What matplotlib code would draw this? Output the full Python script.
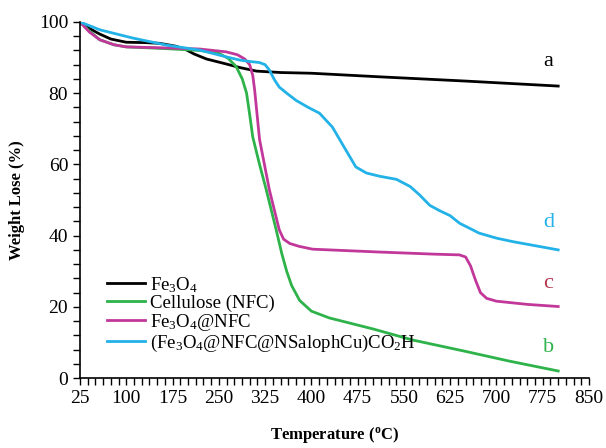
import matplotlib.pyplot as plt
from matplotlib.ticker import MultipleLocator

plt.rcParams['font.family'] = 'Liberation Serif'
plt.rcParams['mathtext.fontset'] = 'custom'
plt.rcParams['mathtext.rm'] = 'Liberation Serif'
plt.rcParams['mathtext.it'] = 'Liberation Serif:italic'
plt.rcParams['mathtext.bf'] = 'Liberation Serif:bold'

# Fe3O4 (a)
t_a = [25, 40, 57, 75, 100, 130, 154, 180, 197, 210, 230, 262, 284, 311, 350, 400,
       510, 650, 800]
w_a = [100, 98.2, 96.6, 95.2, 94.3, 94.2, 94, 93.2, 92.2, 91, 89.6, 88.2, 87.2, 86.2,
       85.8, 85.6, 84.6, 83.4, 82]

# Cellulose (NFC) (b)
t_b = [25, 40, 57, 80, 100, 165, 219, 250, 265, 278, 288, 295, 300, 305, 316, 327,
       343, 352, 360, 368, 381, 400, 429, 500, 564, 650, 720, 800]
w_b = [100, 97.5, 95, 93.6, 93, 92.5, 92, 91.2, 89.8, 87.5, 84, 80, 74, 67.7, 60,
       52.8, 41.6, 35, 30, 26, 21.8, 18.8, 16.9, 13.8, 10.7, 7.5, 4.8, 2]

# Fe3O4@NFC (c)
t_c = [25, 40, 57, 80, 100, 165, 219, 262, 280, 292, 300, 305, 308, 316, 332, 348,
       355, 365, 380, 402, 510, 600, 640, 650, 658, 666, 674, 684, 700, 750, 800]
w_c = [100, 97.2, 95, 93.6, 93, 92.7, 92.4, 91.6, 90.8, 89.6, 88, 85, 81, 67, 52.8,
       41.6, 39, 37.8, 37, 36.2, 35.4, 34.8, 34.6, 34, 31.5, 27.5, 24, 22.4, 21.6,
       20.7, 20.1]

# (Fe3O4@NFC@NSalophCu)CO2H (d)
t_d = [25, 57, 110, 165, 219, 262, 284, 300, 316, 325, 332, 340, 348, 360, 375, 395,
       413, 434, 456, 472, 489, 510, 538, 560, 575, 592, 608, 625, 640, 672, 700,
       727, 800]
w_d = [100, 97.8, 95.5, 93.5, 92.1, 90.2, 89.3, 88.9, 88.6, 88, 86.5, 83.8, 81.7,
       80, 78, 76, 74.4, 70.5, 64, 59.3, 57.6, 56.7, 55.8, 53.8, 51.5, 48.5, 47, 45.6,
       43.5, 40.7, 39.3, 38.3, 36]

labels = ['Fe$_3$O$_4$', 'Cellulose (NFC)', 'Fe$_3$O$_4$@NFC',
          '(Fe$_3$O$_4$@NFC@NSalophCu)CO$_2$H']
colors = ['black', '#2db34a', '#c2389a', '#22b2e8']

fig = plt.figure(figsize=(6.06, 4.48), dpi=100)
ax = fig.add_axes([0.132, 0.156, 0.840, 0.795])

for t, w, lab, c in zip([t_a, t_b, t_c, t_d], [w_a, w_b, w_c, w_d], labels, colors):
    ax.plot(t, w, color=c, lw=2, label=lab, solid_joinstyle='round')

# curve letters
ax.text(775, 87.5, 'a', color='black', fontsize=16)
ax.text(775, 42.4, 'd', color='#22b2e8', fontsize=16)
ax.text(775, 25.3, 'c', color='#b5384f', fontsize=16)
ax.text(775, 7.3, 'b', color='#2db34a', fontsize=16)

ax.set_xlim(25, 850)
ax.set_ylim(0, 100)
ax.set_xticks(range(25, 851, 75))
ax.set_yticks(range(0, 101, 20))
ax.xaxis.set_minor_locator(MultipleLocator(12.5))
ax.yaxis.set_minor_locator(MultipleLocator(4))
ax.tick_params(which='both', direction='out', length=5, width=1, labelsize=14)
for s in ['top', 'right']:
    ax.spines[s].set_visible(False)
for s in ['left', 'bottom']:
    ax.spines[s].set_linewidth(1.2)

ax.set_xlabel('Temperature ($\\mathbf{^{o}}$C)', fontsize=12, fontweight='bold', labelpad=13)
ax.set_ylabel('Weight Lose (%)', fontsize=12, fontweight='bold', labelpad=10)

ax.legend(loc='lower left', bbox_to_anchor=(0.02, 0.02), frameon=False, fontsize=13.5,
          handlelength=2, handletextpad=0.3, labelspacing=0.0)

fig.savefig('out.png', dpi=100)
